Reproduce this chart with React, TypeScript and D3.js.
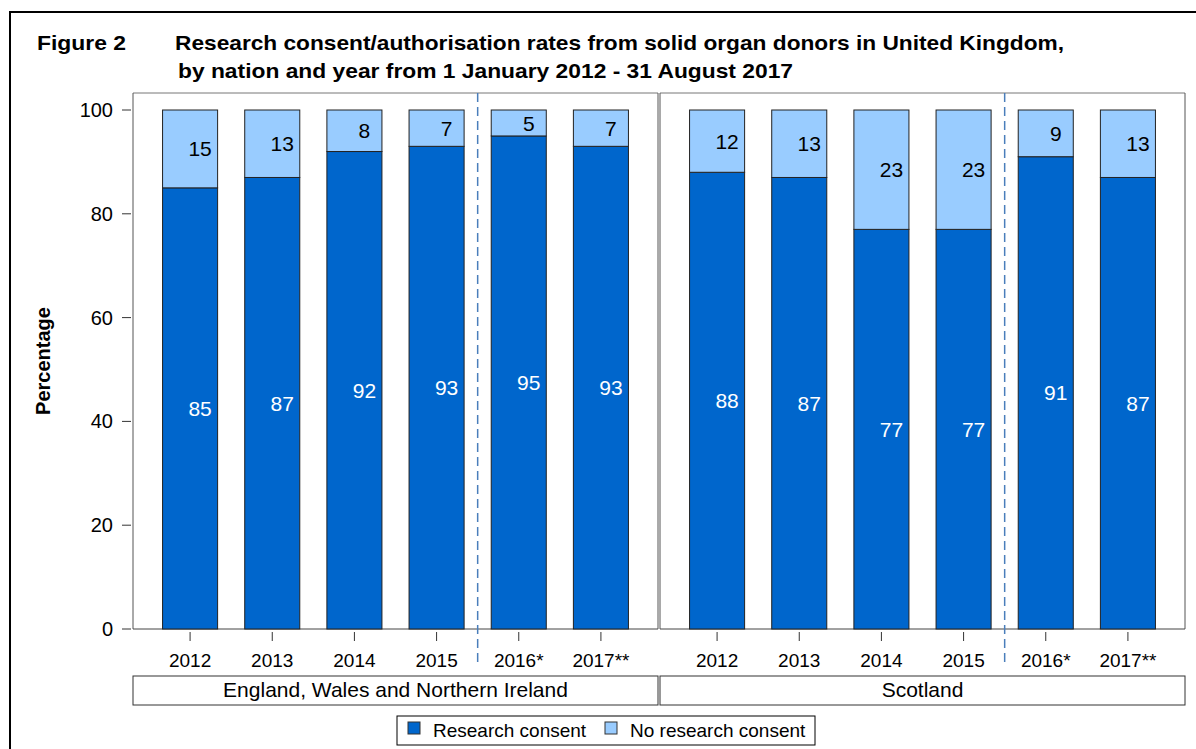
import React from "react";
import * as d3 from "d3";

const years = ["2012", "2013", "2014", "2015", "2016*", "2017**"];
const nations = ["England, Wales and Northern Ireland", "Scotland"];
const consentEWNI = [85, 87, 92, 93, 95, 93];
const noConsentEWNI = [15, 13, 8, 7, 5, 7];
const consentScotland = [88, 87, 77, 77, 91, 87];
const noConsentScotland = [12, 13, 23, 23, 9, 13];
const yTicks = [0, 20, 40, 60, 80, 100];
const seriesNames = ["Research consent", "No research consent"];
const dividerAfter = "2015";

const W = 1196;
const H = 749;
const FONT = "'Liberation Sans', Arial, Helvetica, sans-serif";
const DARK = "#0066CC";
const LIGHT = "#99CCFF";

export default function App() {
  const plotLeft = 133;
  const plotRight = 1185;
  const plotTop = 93;
  const plotBottom = 629;
  const gap = 2;
  const panelW = (plotRight - plotLeft - gap) / 2;

  const y = d3.scaleLinear().domain([0, 100]).range([plotBottom, 110]);
  const panelX = d3
    .scaleOrdinal<string, number>()
    .domain(nations)
    .range([plotLeft, plotLeft + panelW + gap]);

  const panelData = [
    { nation: nations[0], consent: consentEWNI, noConsent: noConsentEWNI },
    { nation: nations[1], consent: consentScotland, noConsent: noConsentScotland },
  ];

  return (
    <svg
      width={W}
      height={H}
      style={{ position: "absolute", left: 0, top: 0, background: "#fff" }}
      fontFamily={FONT}
    >
      <rect x={0} y={0} width={W} height={H} fill="#fff" />
      <rect x={10} y={12} width={1200} height={800} fill="none" stroke="#000" strokeWidth={2} />

      {/* Title */}
      <text x={37} y={50} fontSize={21} fontWeight="bold" fill="#000" textLength={89} lengthAdjust="spacingAndGlyphs">
        Figure 2
      </text>
      <text x={175} y={50} fontSize={21} fontWeight="bold" fill="#000" textLength={889} lengthAdjust="spacingAndGlyphs">
        Research consent/authorisation rates from solid organ donors in United Kingdom,
      </text>
      <text x={178} y={78} fontSize={21} fontWeight="bold" fill="#000" textLength={615} lengthAdjust="spacingAndGlyphs">
        by nation and year from 1 January 2012 - 31 August 2017
      </text>

      {/* Y axis label */}
      <text
        transform={`translate(50, ${361}) rotate(-90)`}
        textAnchor="middle"
        fontSize={20}
        fontWeight="bold"
        fill="#000"
      >
        Percentage
      </text>

      {/* Y ticks */}
      {yTicks.map((t) => (
        <g key={t}>
          <line x1={122} x2={131} y1={y(t)} y2={y(t)} stroke="#333" strokeWidth={1} />
          <text x={113} y={y(t) + 7} textAnchor="end" fontSize={20} fill="#000">
            {t}
          </text>
        </g>
      ))}

      {panelData.map((p) => {
        const px = panelX(p.nation);
        const x = d3
          .scaleBand<string>()
          .domain(years)
          .range([px + 16, px + panelW - 16])
          .paddingInner(0.33)
          .paddingOuter(0.165);
        const bw = x.bandwidth();
        const iDiv = years.indexOf(dividerAfter);
        const divX = (x(years[iDiv])! + x(years[iDiv + 1])! + bw) / 2;
        return (
          <g key={p.nation}>
            {/* panel frame */}
            <line x1={px} x2={px + panelW} y1={plotTop} y2={plotTop} stroke="#777" strokeWidth={1} />
            <line x1={px} x2={px} y1={plotTop} y2={plotBottom} stroke="#555" strokeWidth={1} />
            <line x1={px + panelW} x2={px + panelW} y1={plotTop} y2={plotBottom} stroke="#555" strokeWidth={1} />
            <line x1={px} x2={px + panelW} y1={plotBottom} y2={plotBottom} stroke="#444" strokeWidth={1} />

            {years.map((yr, i) => {
              const bx = x(yr)!;
              const c = p.consent[i];
              const n = p.noConsent[i];
              const cx = bx + bw / 2;
              return (
                <g key={yr}>
                  <rect x={bx} y={y(c)} width={bw} height={y(0) - y(c)} fill={DARK} stroke="#222" strokeWidth={1} />
                  <rect x={bx} y={y(c + n)} width={bw} height={y(c) - y(c + n)} fill={LIGHT} stroke="#222" strokeWidth={1} />
                  <text x={cx + 10} y={y(c / 2)} dy="0.36em" textAnchor="middle" fontSize={21} fill="#fff">
                    {c}
                  </text>
                  <text x={cx + 10} y={y(c + n / 2)} dy="0.36em" textAnchor="middle" fontSize={21} fill="#000">
                    {n}
                  </text>
                  <line x1={cx} x2={cx} y1={632} y2={641} stroke="#333" strokeWidth={1} />
                  <text x={cx} y={667} textAnchor="middle" fontSize={19} fill="#000">
                    {yr}
                  </text>
                </g>
              );
            })}

            <line
              x1={divX}
              x2={divX}
              y1={plotTop}
              y2={664}
              stroke="#4A7EBB"
              strokeWidth={1.5}
              strokeDasharray="9,5"
            />

            {/* panel label */}
            <rect x={px} y={676} width={panelW} height={29} fill="#fff" stroke="#333" strokeWidth={1} />
            <text x={px + panelW / 2} y={697} textAnchor="middle" fontSize={21} fill="#000">
              {p.nation}
            </text>
          </g>
        );
      })}

      {/* Legend */}
      <rect x={397} y={716} width={418} height={29} fill="#fff" stroke="#000" strokeWidth={1} />
      {seriesNames.map((s, i) => {
        const lx = i === 0 ? 408 : 605;
        return (
          <g key={s}>
            <rect x={lx} y={722} width={12} height={12} fill={i === 0 ? DARK : LIGHT} stroke="#333" strokeWidth={1} />
            <text x={lx + 25} y={737} fontSize={19} fill="#000">
              {s}
            </text>
          </g>
        );
      })}
    </svg>
  );
}
